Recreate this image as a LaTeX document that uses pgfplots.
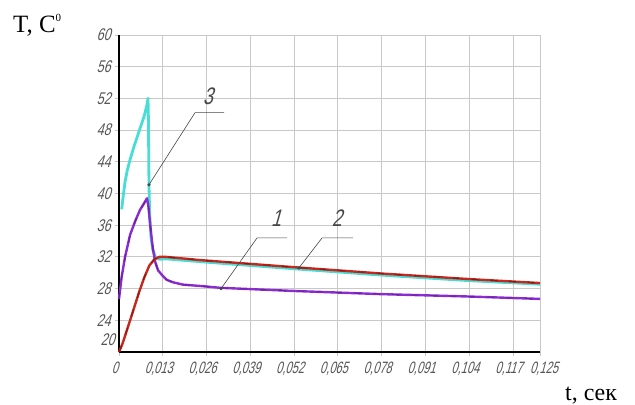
\documentclass[border=0pt]{standalone}
\usepackage{fontspec}
\setmainfont{Liberation Serif}
\newfontfamily\gost[FakeSlant=0.28,FakeStretch=0.74]{Liberation Sans}
\newfontfamily\gostn[FakeSlant=0.28,FakeStretch=0.68]{Liberation Sans}
\usepackage{pgfplots}
\pgfplotsset{compat=1.18}
\usepackage{pgfplotstable}

\definecolor{cturq}{RGB}{72,222,214}
\definecolor{cpurp}{RGB}{138,44,206}
\definecolor{cpurpd}{RGB}{90,20,140}
\definecolor{cred}{RGB}{196,40,30}
\definecolor{credd}{RGB}{100,16,12}
\definecolor{gridc}{RGB}{200,200,200}
\definecolor{lead}{RGB}{70,70,70}
\definecolor{ticktext}{RGB}{85,85,85}

% curve 1
\pgfplotstableread{
t T
0.0000 26.7
0.0008 29.5
0.0018 32.0
0.0033 34.8
0.0048 36.5
0.0062 37.9
0.0075 38.8
0.0083 39.4
0.0087 38.5
0.0092 36.3
0.0097 34.3
0.0101 32.9
0.0108 31.3
0.0116 30.3
0.0130 29.6
0.0142 29.1
0.0160 28.8
0.0190 28.5
0.0250 28.3
0.0300 28.1
0.0520 27.7
0.0780 27.3
0.1040 27.0
0.1250 26.7
}\curveone

% curve 2
\pgfplotstableread{
t T
0.0000 20.0
0.0010 21.0
0.0020 22.3
0.0033 24.0
0.0045 25.6
0.0060 27.6
0.0075 29.4
0.0090 30.9
0.0105 31.7
0.0120 32.0
0.0140 32.0
0.0240 31.6
0.0520 30.7
0.0780 29.9
0.1040 29.2
0.1250 28.7
}\curvetwo

% curve 3
\pgfplotstableread{
t T
0.0008 38.0
0.0012 39.5
0.0018 41.5
0.0025 43.0
0.0033 44.3
0.0045 46.0
0.0060 47.9
0.0075 49.8
0.0083 51.2
0.0086 52.0
0.0087 50.5
0.0088 46.0
0.0089 41.1
0.0091 37.5
0.0095 34.5
0.0100 33.0
0.0108 32.0
0.0120 31.7
0.0140 31.75
0.0240 31.4
0.0520 30.5
0.0780 29.7
0.1040 29.0
0.1250 28.55
}\curvethree

\begin{document}
\begin{tikzpicture}
\begin{axis}[
  scale only axis,
  width=421bp, height=317bp,
  xmin=0, xmax=0.125, ymin=20, ymax=60,
  axis x line*=bottom, axis y line*=left,
  axis line style={black, line width=1.6bp},
  xtick={0,0.013,0.026,0.039,0.052,0.065,0.078,0.091,0.104,0.117},
  xticklabels={0,0{,}013,0{,}026,0{,}039,0{,}052,0{,}065,0{,}078,0{,}091,0{,}104,0{,}117},
  extra x ticks={0.125},
  extra x tick labels={0{,}125},
  extra x tick style={xticklabel style={xshift=8bp}},
  ytick={24,28,...,60},
  yticklabels={24,28,32,36,40,44,48,52,56,60},
  extra y ticks={21.6},
  extra y tick labels={20},
  extra y tick style={grid=none, major tick length=0pt},
  grid=major,
  major grid style={gridc, line width=0.9bp},
  tick align=outside,
  major tick length=4bp,
  tick style={gridc, line width=0.9bp},
  yticklabel style={font=\gost\fontsize{17}{17}\selectfont, text=ticktext, xshift=-1bp},
  xticklabel style={font=\gostn\fontsize{16.5}{16.5}\selectfont, text=ticktext, yshift=-3bp, xshift=-4bp},
  clip=false,
]
% curve 3 (drawn first, sits under curve 2 on the tail)
\addplot[cturq, line width=2.8bp, line join=round] table[x=t,y=T] {\curvethree};
% curve 1
\addplot[cpurp, line width=2.4bp, line join=round] table[x=t,y=T] {\curveone};
\addplot[cpurpd, line width=1.0bp, dash pattern=on 7bp off 12bp, opacity=0.6] table[x=t,y=T] {\curveone};
% curve 2
\addplot[cred, line width=2.4bp, line join=round] table[x=t,y=T] {\curvetwo};
\addplot[credd, line width=1.0bp, dash pattern=on 7bp off 12bp, opacity=0.6] table[x=t,y=T] {\curvetwo};

% leaders with numbers
\addplot[lead, line width=0.6bp, mark=*, mark size=1.3bp, mark indices={1}] coordinates {(0.0089,41.1) (0.02257,50.2) (0.0312,50.2)};
\addplot[lead, line width=0.6bp, mark=*, mark size=1.3bp, mark indices={1}] coordinates {(0.0303,28.0) (0.0410,34.4) (0.0499,34.4)};
\addplot[lead, line width=0.6bp, mark=*, mark size=1.3bp, mark indices={1}] coordinates {(0.0534,30.6) (0.0603,34.4) (0.0695,34.4)};
\node[font=\gost\fontsize{24}{24}\selectfont, text=lead] at (axis cs:0.0264,52.3) {3};
\node[font=\gost\fontsize{24}{24}\selectfont, text=lead] at (axis cs:0.0466,36.9) {1};
\node[font=\gost\fontsize{24}{24}\selectfont, text=lead] at (axis cs:0.0647,36.9) {2};
\end{axis}
\node[anchor=base west, font=\fontsize{25}{25}\selectfont, inner sep=0pt] at (-106bp,319bp) {T, C\raisebox{0.45em}{\fontsize{11}{11}\selectfont 0}};
\node[anchor=base west, font=\fontsize{24}{24}\selectfont, inner sep=0pt] at (446bp,-48bp) {t, сек};
\useasboundingbox (-119bp,-53bp) rectangle (516bp,352bp);
\end{tikzpicture}
\end{document}
